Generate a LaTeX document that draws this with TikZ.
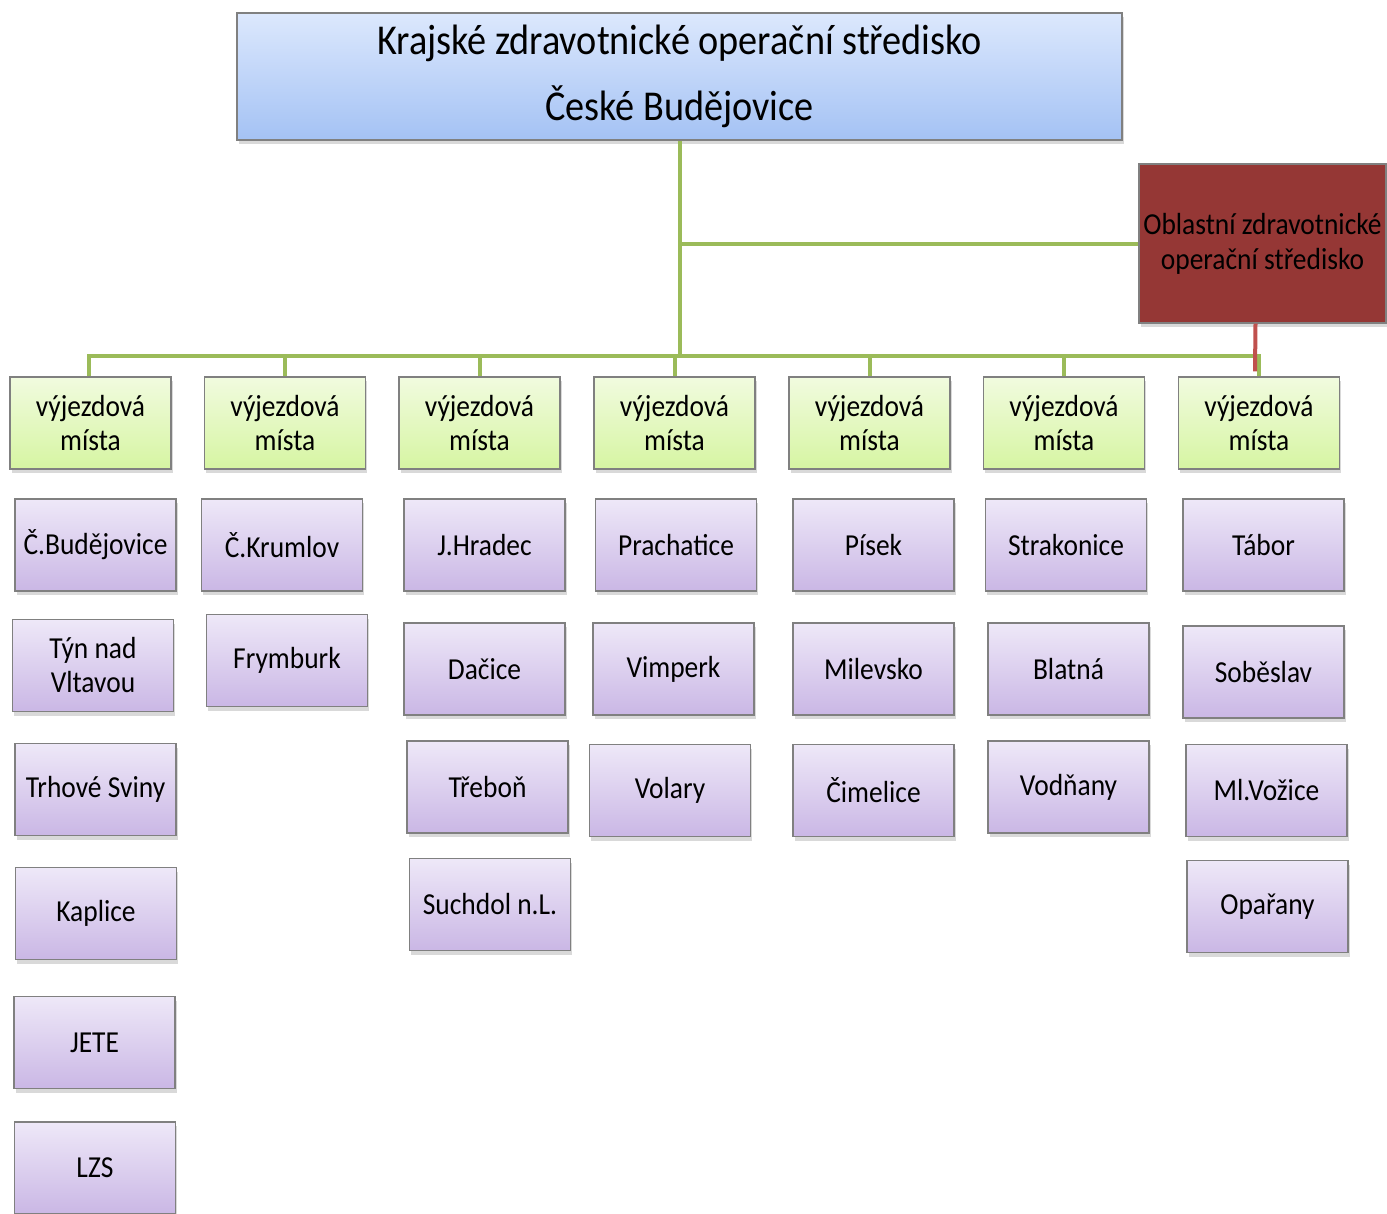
\documentclass[tikz,border=0pt]{standalone}
\usepackage{fontspec}
\setmainfont{Carlito}[FakeStretch=0.9]
\usepackage{xcolor}
\usepackage{tikz}
\usetikzlibrary{positioning, shadows}

\definecolor{linegreen}{HTML}{9BBB59}
\definecolor{linered}{HTML}{C0504D}
\definecolor{boxred}{HTML}{953735}
\definecolor{bluetop}{HTML}{DCE8FD}
\definecolor{bluebot}{HTML}{A4C2F4}
\definecolor{greentop}{HTML}{F1FBDF}
\definecolor{greenbot}{HTML}{D6F5A2}
\definecolor{violtop}{HTML}{EEE8F8}
\definecolor{violbot}{HTML}{CAB7E5}
\definecolor{boxline}{HTML}{808080}

\begin{document}
\begin{tikzpicture}[x=1pt, y=-1pt,
    every node/.style={draw=boxline, line width=1.2pt, rectangle, align=center, text=black,
        drop shadow={opacity=0.3, shadow xshift=1.5pt, shadow yshift=-4pt}},
    centre/.style={top color=bluetop, bottom color=bluebot, minimum width=885pt, minimum height=127pt,
        font=\fontsize{42.5}{45}\selectfont},
    region/.style={fill=boxred, minimum width=247pt, minimum height=159pt,
        font=\fontsize{30.5}{35}\selectfont},
    group/.style={top color=greentop, bottom color=greenbot, minimum width=161pt, minimum height=92pt,
        font=\fontsize{30.5}{34}\selectfont},
    place/.style={top color=violtop, bottom color=violbot, minimum width=161pt, minimum height=92pt,
        font=\fontsize{30.5}{34}\selectfont},
    conn/.style={draw=linegreen, line width=4pt},
    redconn/.style={draw=linered, line width=4pt}]
    \useasboundingbox (0,0) rectangle (1387,1213);
    \clip (0,0) rectangle (1387,1213);

    % Nodes
    \node[centre] (kzos) at (679.5,76.5) {Krajské zdravotnické operační středisko\\[21pt]České Budějovice};
    \node[region] (ozos) at (1262.5,243.5) {Oblastní zdravotnické\\operační středisko};

    \node[group] (v1) at (90.5,423) {výjezdová\\místa};
    \node[group] (v2) at (285,423) {výjezdová\\místa};
    \node[group] (v3) at (479.5,423) {výjezdová\\místa};
    \node[group] (v4) at (674.5,423) {výjezdová\\místa};
    \node[group] (v5) at (869.5,423) {výjezdová\\místa};
    \node[group] (v6) at (1064,423) {výjezdová\\místa};
    \node[group] (v7) at (1259,423) {výjezdová\\místa};

    \node[place] (cbud) at (95.5,545) {Č.Budějovice};
    \node[place] (tyn) at (93,665.5) {Týn nad\\Vltavou};
    \node[place] (trhove) at (95.5,789.5) {Trhové Sviny};
    \node[place] (kaplice) at (96,913.5) {Kaplice};
    \node[place] (jete) at (94.5,1042.5) {JETE};
    \node[place] (lzs) at (95,1168) {LZS};

    \node[place] (ckrum) at (282,545) {Č.Krumlov};
    \node[place] (frym) at (287,660.5) {Frymburk};

    \node[place] (jhrad) at (484.5,545) {J.Hradec};
    \node[place] (dacice) at (484.5,669) {Dačice};
    \node[place] (trebon) at (487.5,787) {Třeboň};
    \node[place] (suchdol) at (490,904.5) {Suchdol n.L.};

    \node[place] (prach) at (676,545) {Prachatice};
    \node[place] (vimperk) at (673.5,669) {Vimperk};
    \node[place] (volary) at (670,790.5) {Volary};

    \node[place] (pisek) at (873.5,545) {Písek};
    \node[place] (milev) at (873.5,669) {Milevsko};
    \node[place] (cimel) at (873.5,790.5) {Čimelice};

    \node[place] (strak) at (1066,545) {Strakonice};
    \node[place] (blatna) at (1068.5,669) {Blatná};
    \node[place] (vodnany) at (1068.5,787) {Vodňany};

    \node[place] (tabor) at (1263.5,545) {Tábor};
    \node[place] (sobeslav) at (1263.5,672) {Soběslav};
    \node[place] (mlvoz) at (1266.5,790.5) {Ml.Vožice};
    \node[place] (oparany) at (1267.5,906.5) {Opařany};

    % Lines
    \coordinate (bus) at (679.5,357);
    \draw[conn] (kzos.south) -- (bus);
    \draw[conn] (kzos.south |- ozos.west) -- (ozos.west);
    \draw[conn] ([xshift=-2pt]v1.north) -- ++(0,-20) -| (v7.north);
    \foreach \i in {2,...,6}
        \draw[conn] (v\i.north) -- ++(0,-20);
    \draw[redconn] ([xshift=-7pt]ozos.south) -- ([xshift=-4pt,yshift=5pt]v7.north);
\end{tikzpicture}
\end{document}
